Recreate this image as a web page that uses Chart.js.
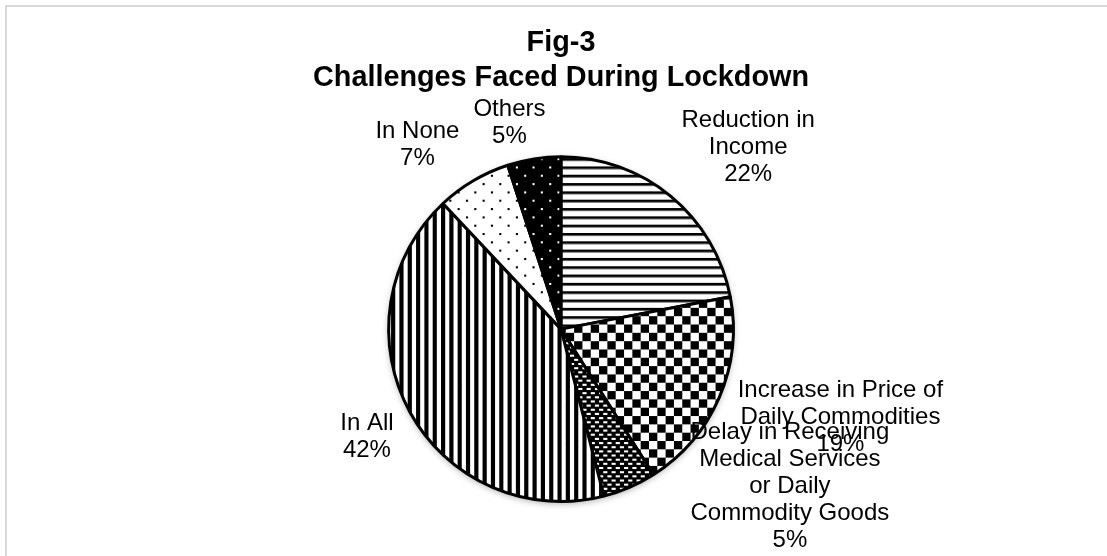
<!DOCTYPE html>
<html>
<head>
<meta charset="utf-8">
<title>Challenges Faced During Lockdown</title>
<script src="https://cdn.jsdelivr.net/npm/chart.js@4.4.0/dist/chart.umd.min.js"></script>
<style>
  html, body { margin: 0; padding: 0; background: #fff; }
  #wrap { position: relative; width: 1107px; height: 556px; overflow: hidden; }
  #frame {
    position: absolute; left: 5px; top: 5px; right: -10px; bottom: -10px;
    border-left: 2px solid #d9d9d9; border-top: 2px solid #d9d9d9;
    pointer-events: none;
  }
</style>
</head>
<body>
<div id="wrap">
  <canvas id="pie" width="1107" height="556"></canvas>
  <div id="frame"></div>
</div>
<script>
// categories (wrapped the way they are printed next to the pie)
const categories = [
  ["Reduction in", "Income"],
  ["Increase in Price of", "Daily Commodities"],
  ["Delay in Receiving", "Medical Services", "or Daily", "Commodity Goods"],
  ["In All"],
  ["In None"],
  ["Others"]
];
const shares = [22, 19, 5, 42, 7, 5];

// where each label block sits, in pie radii from the centre
const labelSpots = [
  [1.086, -1.057],
  [1.621, 0.511],
  [1.328, 0.914],
  [-1.126, 0.626],
  [-0.833, -1.069],
  [-0.299, -1.195]
];

const SCALE = 1.04;

function makePattern(size, paint) {
  const c = document.createElement("canvas");
  c.width = size;
  c.height = size;
  const g = c.getContext("2d");
  g.fillStyle = "#fff";
  g.fillRect(0, 0, size, size);
  g.fillStyle = "#000";
  paint(g, size);
  const p = document.getElementById("pie").getContext("2d").createPattern(c, "repeat");
  p.setTransform(new DOMMatrix().scale(SCALE));
  return p;
}

const fills = [
  // horizontal lines
  makePattern(8, g => g.fillRect(0, 0, 8, 2.6)),
  // large checkerboard
  makePattern(16, g => { g.fillRect(0, 0, 8, 8); g.fillRect(8, 8, 8, 8); }),
  // black with white dashes
  makePattern(8, g => {
    g.fillRect(0, 0, 8, 8);
    g.fillStyle = "#fff";
    g.fillRect(0, 1, 4, 2);
    g.fillRect(4, 5, 4, 2);
  }),
  // vertical lines
  makePattern(8, g => g.fillRect(0, 0, 4, 8)),
  // sparse dots
  makePattern(16, g => { g.fillRect(0, 0, 2, 2); g.fillRect(8, 8, 2, 2); }),
  // white dots on black
  makePattern(16, g => {
    g.fillRect(0, 0, 16, 16);
    g.fillStyle = "#fff";
    g.fillRect(0, 0, 2, 2);
    g.fillRect(8, 8, 2, 2);
  })
];

const total = shares.reduce((a, b) => a + b, 0);

// soft drop shadow under the pie
const pieShadow = {
  id: "pieShadow",
  beforeDatasetsDraw(chart) {
    const arc = chart.getDatasetMeta(0).data[0];
    if (!arc) return;
    const ctx = chart.ctx;
    ctx.save();
    ctx.shadowColor = "rgba(0,0,0,0.35)";
    ctx.shadowBlur = 7;
    ctx.shadowOffsetY = 2;
    ctx.fillStyle = "#fff";
    ctx.beginPath();
    ctx.arc(arc.x, arc.y, arc.outerRadius, 0, Math.PI * 2);
    ctx.fill();
    ctx.restore();
  }
};

// category name + percentage beside each slice
const sliceLabels = {
  id: "sliceLabels",
  afterDatasetsDraw(chart) {
    const ctx = chart.ctx;
    const arcs = chart.getDatasetMeta(0).data;
    ctx.save();
    ctx.font = "24px 'Liberation Sans', Arial, sans-serif";
    ctx.fillStyle = "#000";
    ctx.textAlign = "center";
    ctx.textBaseline = "middle";
    const lh = 27;
    arcs.forEach((arc, i) => {
      const r = arc.outerRadius;
      const cx = arc.x + labelSpots[i][0] * r;
      const cy = arc.y + labelSpots[i][1] * r;
      const lines = categories[i].concat([Math.round(shares[i] / total * 100) + "%"]);
      const top = cy - (lines.length - 1) * lh / 2;
      lines.forEach((t, k) => ctx.fillText(t, cx, top + k * lh));
    });
    ctx.restore();
  }
};

new Chart(document.getElementById("pie"), {
  type: "pie",
  data: {
    labels: categories,
    datasets: [{
      data: shares,
      backgroundColor: fills,
      borderColor: "#000",
      borderWidth: 3
    }]
  },
  options: {
    responsive: false,
    animation: false,
    layout: { padding: { left: 15, right: 0, top: 0, bottom: 53 } },
    plugins: {
      legend: { display: false },
      tooltip: { enabled: false },
      title: {
        display: true,
        text: ["Fig-3", "Challenges Faced During Lockdown"],
        color: "#000",
        font: { family: "'Liberation Sans', Arial, sans-serif", size: 28.8, weight: "bold", lineHeight: 1.22 },
        padding: { top: 25.5, bottom: 59.5 }
      }
    }
  },
  plugins: [pieShadow, sliceLabels]
});
</script>
</body>
</html>
